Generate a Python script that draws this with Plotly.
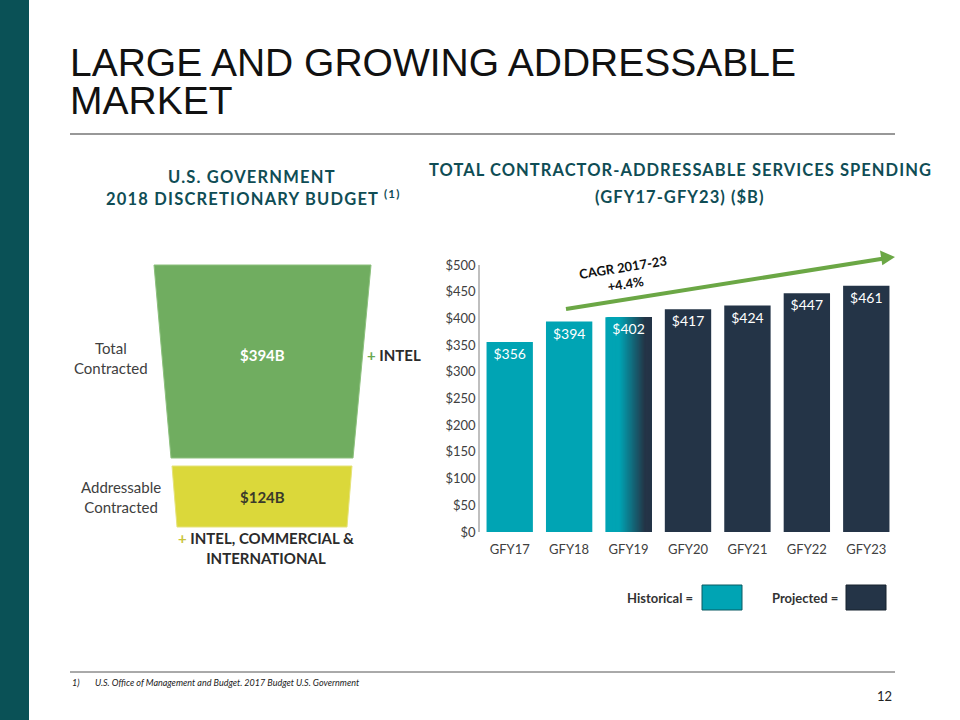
import plotly.graph_objects as go

# ---------------- data ----------------
years = ["GFY17", "GFY18", "GFY19", "GFY20", "GFY21", "GFY22", "GFY23"]
spend = [356, 394, 402, 417, 424, 447, 461]
status = ["Historical", "Historical", "Transition", "Projected", "Projected", "Projected", "Projected"]
y_ticks = [0, 50, 100, 150, 200, 250, 300, 350, 400, 450, 500]
funnel_labels = ["Total<br>Contracted", "Addressable<br>Contracted"]
funnel_values = [394, 124]
cagr_text = "CAGR 2017-23<br>+4.4%"

TEAL = "#00A4B4"
DARK = "#243447"
HEAD = "#0F4D55"
GREY = "#404040"
FONT = "Lato"

W, H = 960, 720


def px(x):
    return x / W


def py(y):
    return 1 - y / H


bar_w = 0.78
colors = []
for s in status:
    if s == "Historical":
        colors.append(TEAL)
    elif s == "Projected":
        colors.append(DARK)
    else:
        colors.append("rgba(0,0,0,0)")

fig = go.Figure()
fig.add_trace(go.Bar(
    x=years, y=spend, width=bar_w,
    marker=dict(color=colors, line=dict(width=0)),
    text=[f"${v}" for v in spend], textposition="inside", insidetextanchor="end",
    textfont=dict(color="white", size=14, family=FONT),
    hoverinfo="skip", showlegend=False,
))

shapes = []
def hex2rgb(h):
    h = h.lstrip("#")
    return tuple(int(h[i:i + 2], 16) for i in (0, 2, 4))

t_rgb, d_rgb = hex2rgb(TEAL), hex2rgb(DARK)
n = 40
for idx, s in enumerate(status):
    if s != "Transition":
        continue
    right = idx + bar_w / 2
    for i in range(n):
        t = (i + 0.5) / n
        f = min(max((t - 0.3) / 0.55, 0), 1)
        c = tuple(round(a + (b - a) * f) for a, b in zip(t_rgb, d_rgb))
        x0 = idx - bar_w / 2 + i * bar_w / n
        shapes.append(dict(type="rect", xref="x", yref="y", layer="below",
                           x0=x0, x1=right, y0=0, y1=spend[idx],
                           fillcolor=f"rgb{c}", line=dict(width=0)))

shapes.append(dict(type="rect", xref="paper", yref="paper", x0=0, x1=px(29), y0=0, y1=1,
                   fillcolor="#0A5156", line=dict(width=0)))
shapes.append(dict(type="line", xref="paper", yref="paper", x0=px(70), x1=px(895), y0=py(134), y1=py(134),
                   line=dict(color="#333333", width=1.2)))
shapes.append(dict(type="line", xref="paper", yref="paper", x0=px(70), x1=px(895), y0=py(672), y1=py(672),
                   line=dict(color="#555555", width=1)))

def trap(xl0, xr0, y0, xl1, xr1, y1, fill, edge):
    path = (f"M {px(xl0)} {py(y0)} L {px(xr0)} {py(y0)} L {px(xr1)} {py(y1)} "
            f"L {px(xl1)} {py(y1)} Z")
    return dict(type="path", xref="paper", yref="paper", path=path,
                fillcolor=fill, line=dict(color=edge, width=1))

shapes.append(trap(154, 371, 265, 171, 353, 458, "#70AD60", "#8CC07D"))
shapes.append(trap(172, 352, 466, 177, 347, 527, "#DBD83A", "#E5E27A"))

shapes.append(dict(type="rect", xref="paper", yref="paper", x0=px(702), x1=px(742), y0=py(610), y1=py(585),
                   fillcolor=TEAL, line=dict(color="#0B5A63", width=1)))
shapes.append(dict(type="rect", xref="paper", yref="paper", x0=px(846), x1=px(886), y0=py(610), y1=py(585),
                   fillcolor=DARK, line=dict(color="#16222F", width=1)))

shapes.append(dict(type="line", xref="paper", yref="paper", x0=px(566), y0=py(309), x1=px(884), y1=py(258.5),
                   line=dict(color="#6BA745", width=4)))
shapes.append(dict(type="path", xref="paper", yref="paper",
                   path=f"M {px(895)} {py(257)} L {px(880)} {py(250.5)} L {px(882.3)} {py(265.3)} Z",
                   fillcolor="#6BA745", line=dict(width=0)))

ann = []
def A(text, x, y, size, color, xanchor="center", bold=False, italic=False, family=FONT, ls=None, **kw):
    t = text
    if ls is not None:
        t = f"<span style='letter-spacing:{ls}px'>{t}</span>"
    if bold:
        t = f"<b>{t}</b>"
    if italic:
        t = f"<i>{t}</i>"
    ann.append(dict(text=t, x=px(x), y=py(y), xref="paper", yref="paper", showarrow=False,
                    xanchor=xanchor, yanchor="middle", font=dict(size=size, color=color, family=family), **kw))

A("LARGE AND GROWING ADDRESSABLE", 68, 62, 39, "#111111", xanchor="left", family="Liberation Sans")
A("MARKET", 68, 101, 39, "#111111", xanchor="left", family="Liberation Sans")

A("U.S. GOVERNMENT", 252, 177, 16.5, HEAD, bold=True, ls=1.2)
A("2018 DISCRETIONARY BUDGET <sup>(1)</sup>", 253, 198, 16.5, HEAD, bold=True, ls=1.2)
A("TOTAL CONTRACTOR-ADDRESSABLE SERVICES SPENDING", 680, 170, 16.5, HEAD, bold=True, ls=1.05)
A("(GFY17-GFY23) ($B)", 680, 197, 16.5, HEAD, bold=True, ls=1.05)

A(f"${funnel_values[0]}B", 262, 355, 15, "white", bold=True)
A(f"${funnel_values[1]}B", 262, 497, 15, "#3A3A2A", bold=True)
A(funnel_labels[0], 111, 358, 15, GREY)
A(funnel_labels[1], 121, 497, 15, GREY)
A("<span style='color:#6AA84F'>+</span> INTEL", 365, 355, 15, "#2B2B2B", xanchor="left", bold=True)
A("<span style='color:#C9C43A'>+</span> INTEL, COMMERCIAL &amp;<br>INTERNATIONAL", 266, 548, 15, "#2B2B2B", bold=True)

A(f"<b>{cagr_text}</b>", 624, 275, 13, "#111111", textangle=-9)

A("Historical =", 660, 598, 13, "#333333", bold=True)
A("Projected =", 805, 598, 13, "#333333", bold=True)

A("1)", 70, 682, 9, "#222222", xanchor="left", italic=True)
A("U.S. Office of Management and Budget. 2017 Budget U.S. Government", 93, 682, 9, "#222222",
  xanchor="left", italic=True)
A("12", 894, 696, 13, "#222222", xanchor="right")

fig.update_layout(
    width=W, height=H, margin=dict(l=0, r=0, t=0, b=0, pad=0, autoexpand=False),
    paper_bgcolor="white", plot_bgcolor="white",
    shapes=shapes, annotations=ann, bargap=0.22,
    xaxis=dict(domain=[px(480), px(896)], showgrid=False, showline=False, zeroline=False,
               automargin=False, ticklabelstandoff=8,
               tickfont=dict(size=13, color="#404040", family=FONT), ticks="", fixedrange=True),
    yaxis=dict(domain=[py(532), py(265)], range=[0, 500], tickvals=y_ticks,
               ticktext=[f"${v}" for v in y_ticks], showgrid=False, zeroline=False,
               automargin=False,
               showline=True, linecolor="#BFBFBF", linewidth=1.5,
               tickfont=dict(size=13, color="#404040", family=FONT), ticks="", fixedrange=True),
    font=dict(family=FONT),
)

post = """
var d=document.documentElement, b=document.body;
d.style.margin='0'; d.style.padding='0'; d.style.overflow='hidden';
b.style.margin='0'; b.style.padding='0'; b.style.overflow='hidden';
"""
fig.write_html("out.html", config={"displayModeBar": False}, post_script=post)
